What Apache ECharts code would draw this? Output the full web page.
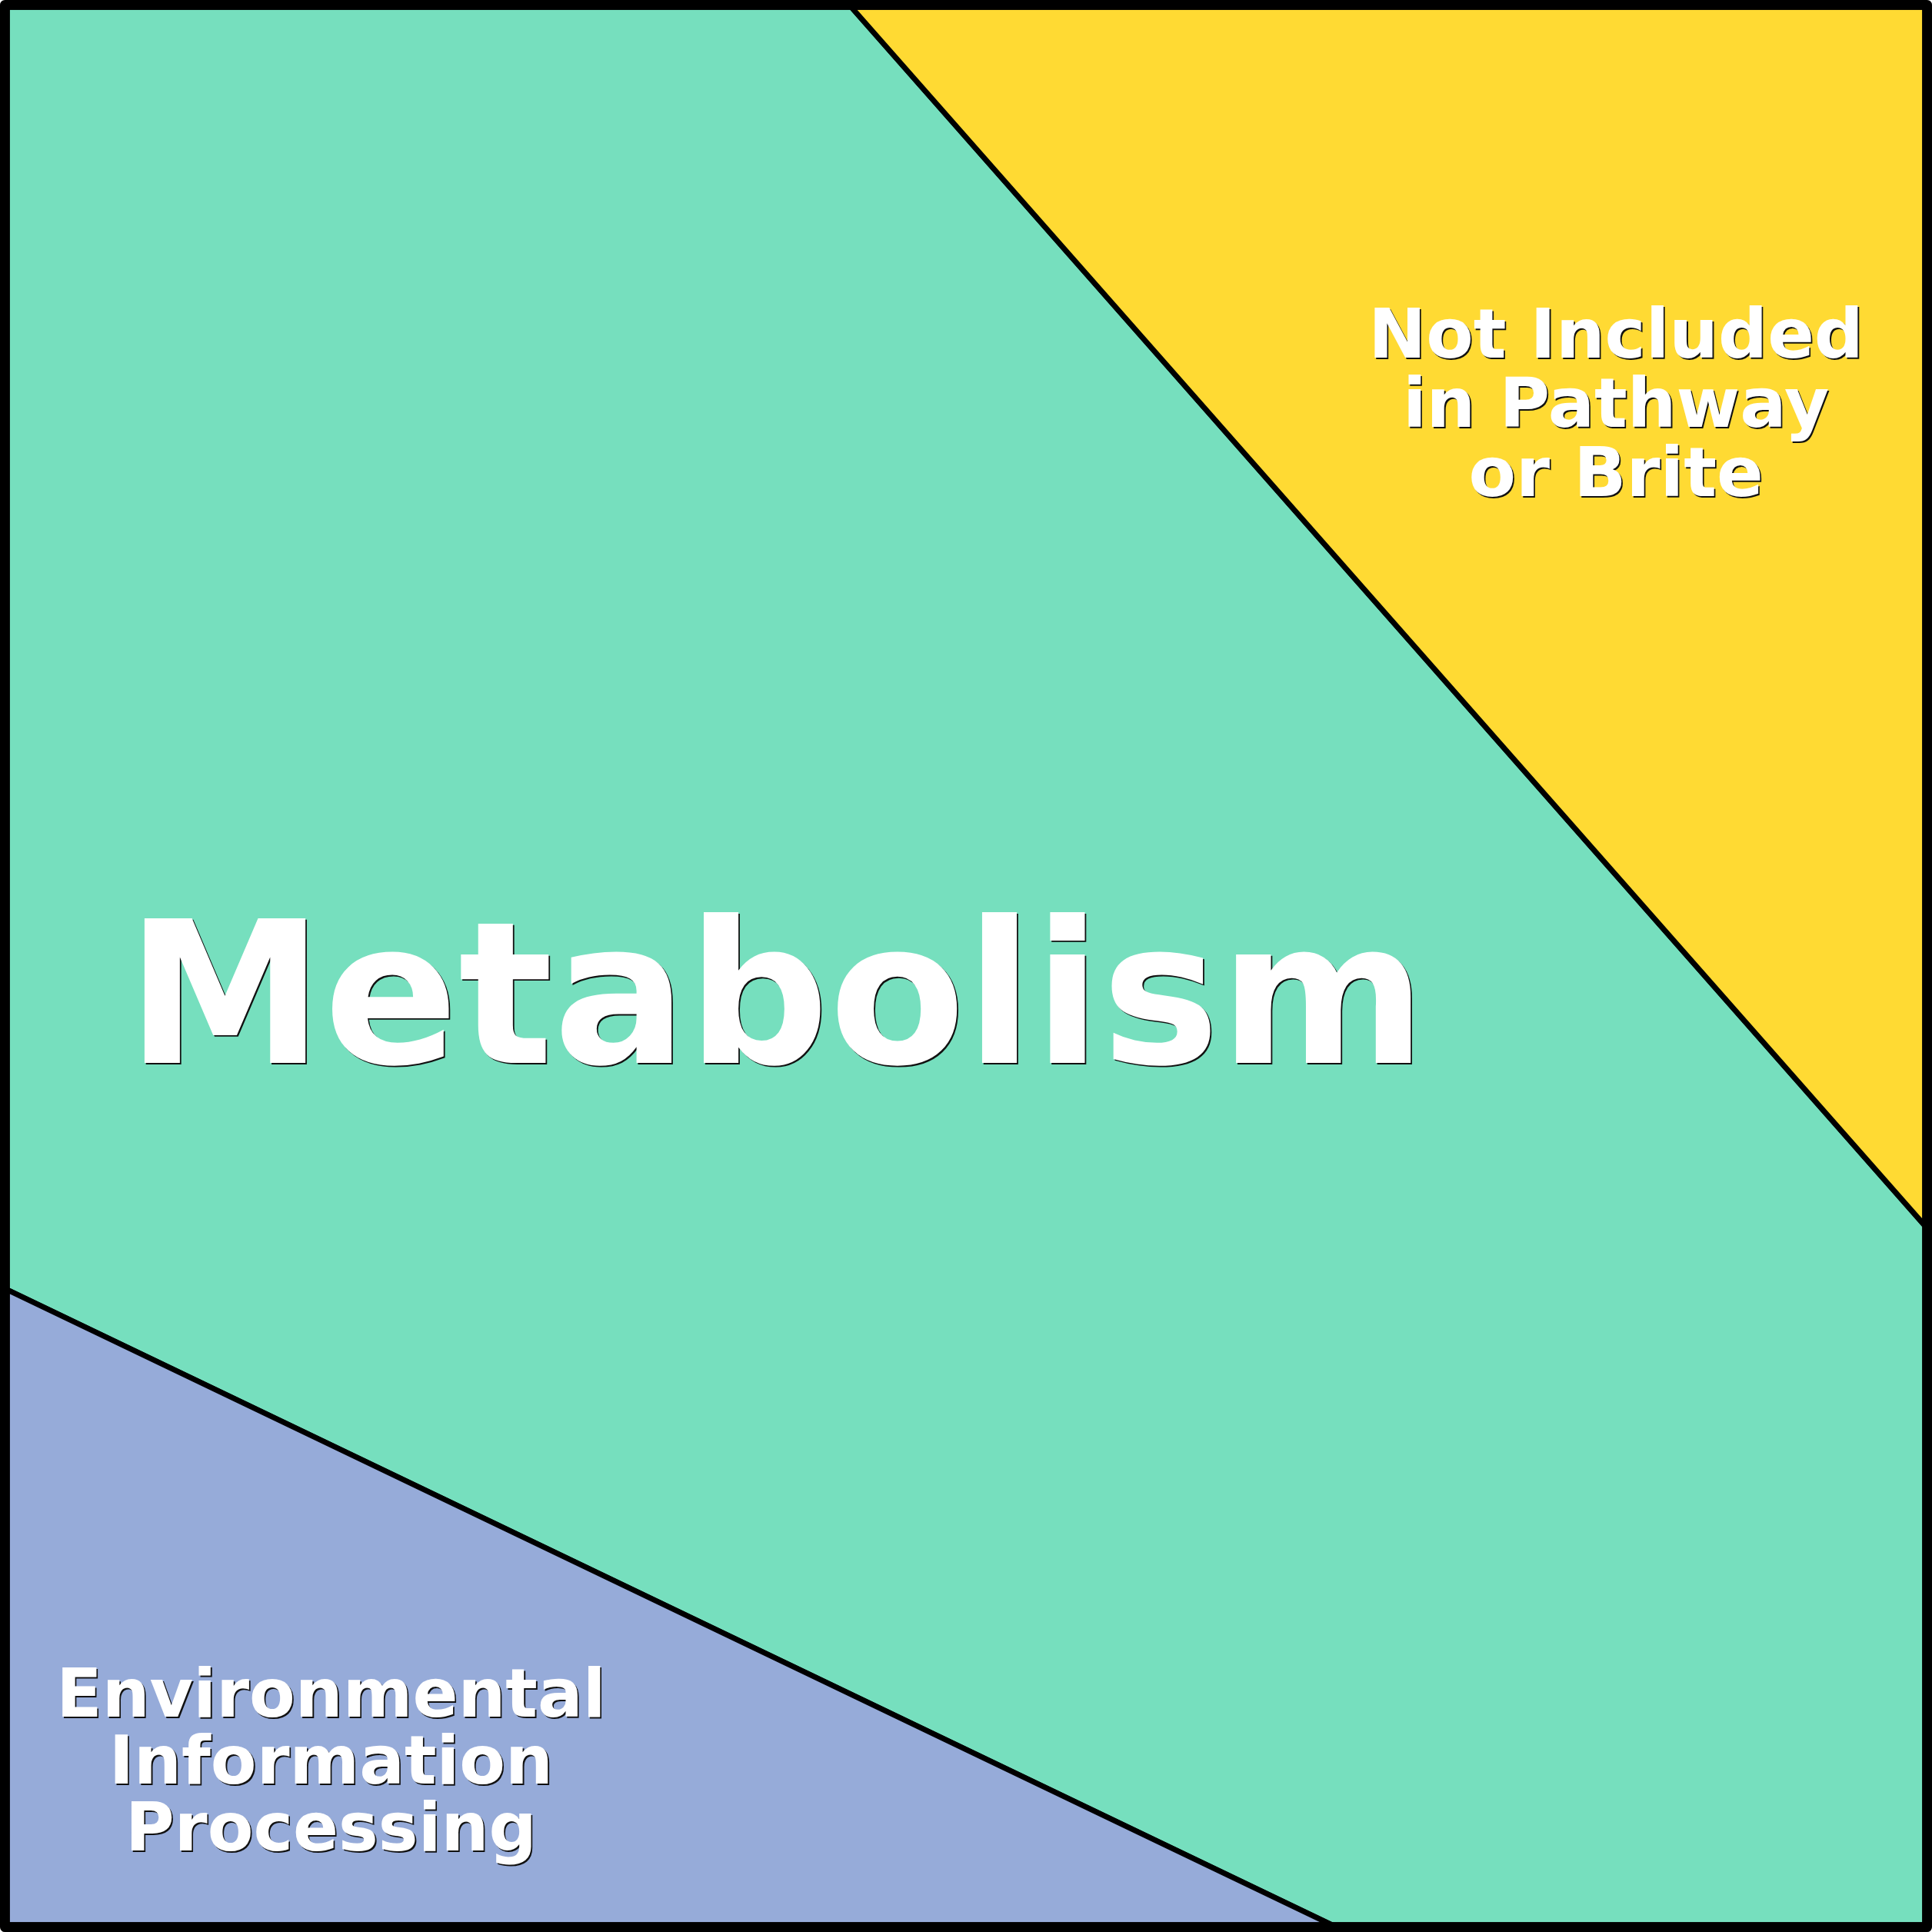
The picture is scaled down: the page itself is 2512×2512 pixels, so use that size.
<!DOCTYPE html>
<html><head><meta charset="utf-8">
<script src="https://cdn.jsdelivr.net/npm/echarts@6/dist/echarts.min.js"></script>
<style>html,body{margin:0;padding:0;background:#fff}#c{width:2512px;height:2512px}</style>
</head><body><div id="c"></div>
<script>
// Cells of the Voronoi treemap (unit square coordinates of the treemap area)
const categories = ['Metabolism', 'Not Included in Pathway or Brite', 'Environmental Information Processing'];
const labelLines = [['Metabolism'], ['Not Included', 'in Pathway', 'or Brite'], ['Environmental', 'Information', 'Processing']];
const metabolismCell = [[0, 0], [0.4402, 0], [1, 0.6354], [1, 1], [0.6908, 1], [0, 0.6688]];
const notIncludedCell = [[0.4402, 0], [1, 0], [1, 0.6354]];
const environmentalCell = [[0, 0.6688], [0.6908, 1], [0, 1]];
const cellPolygons = [metabolismCell, notIncludedCell, environmentalCell];

// Layout / style (kept separate from the data)
const colors = ['#76DFBE', '#FFDA33', '#96ABD9'];
const labelAnchors = [[0.4011, 0.5237], [0.8389, 0.2096], [0.1689, 0.9173]];
const labelSizes = [258, 89.5, 87];
const labelLineHeights = [258, 90, 87];

function textStyle(i, a, dx, fill) {
  return {
    text: labelLines[i].join('\n'),
    x: a[0] + dx, y: a[1] + dx,
    fill: fill,
    fontSize: labelSizes[i],
    fontWeight: 'bold',
    fontFamily: 'DejaVu Sans',
    align: 'center',
    verticalAlign: 'middle',
    lineHeight: labelLineHeights[i]
  };
}

const chart = echarts.init(document.getElementById('c'), null, { renderer: 'canvas' });
const option = {
  animation: false,
  backgroundColor: '#ffffff',
  grid: { left: 9.2, right: 9.2, top: 9.2, bottom: 9.2 },
  xAxis: { type: 'value', min: 0, max: 1, show: false },
  yAxis: { type: 'value', min: 0, max: 1, inverse: true, show: false },
  series: [{
    type: 'custom',
    coordinateSystem: 'cartesian2d',
    clip: false,
    data: categories.map((c, i) => ({ name: c, value: [i] })),
    renderItem: function (params, api) {
      const i = params.dataIndex;
      const pts = cellPolygons[i].map(p => api.coord(p));
      const a = api.coord(labelAnchors[i]);
      return {
        type: 'group',
        children: [
          {
            type: 'polygon',
            shape: { points: pts },
            style: { fill: colors[i], stroke: '#000', lineWidth: 7, lineJoin: 'miter' }
          },
          { type: 'text', z2: 9, style: textStyle(i, a, 1.8, '#111111') },
          { type: 'text', z2: 10, style: textStyle(i, a, 0, '#ffffff') }
        ]
      };
    }
  }],
  graphic: [{
    type: 'rect',
    z: 100,
    silent: true,
    shape: { x: 6.35, y: 6.35, width: 2499.3, height: 2499.3 },
    style: { fill: 'none', stroke: '#000', lineWidth: 12.7, lineJoin: 'round' }
  }]
};
chart.setOption(option);
</script>
</body></html>
